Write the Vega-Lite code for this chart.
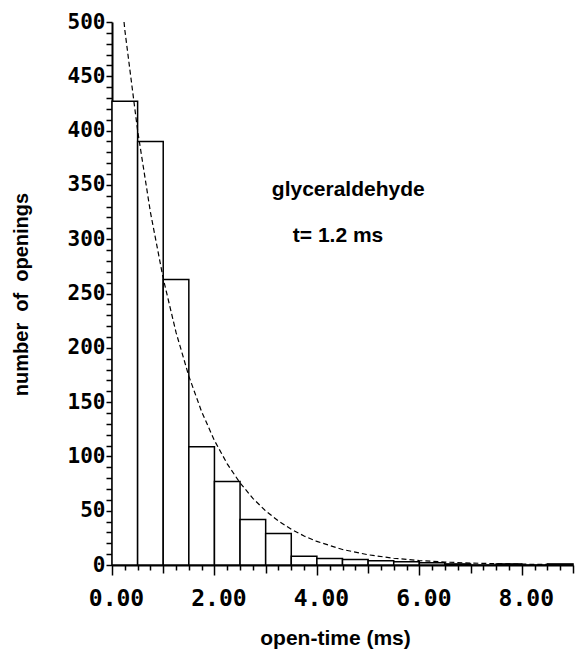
{
  "$schema": "https://vega.github.io/schema/vega-lite/v6.json",
  "width": 461,
  "height": 543,
  "autosize": "none",
  "padding": {"left": 112, "top": 22, "right": 6, "bottom": 84},
  "background": "white",
  "config": {
    "view": {"stroke": null},
    "axis": {"grid": false, "domainColor": "black", "tickColor": "black", "labelColor": "black", "titleColor": "black"}
  },
  "datasets": {
    "bins": [
      {"t": 0, "t2": 0.5, "n": 427},
      {"t": 0.5, "t2": 1, "n": 390},
      {"t": 1, "t2": 1.5, "n": 263},
      {"t": 1.5, "t2": 2, "n": 109},
      {"t": 2, "t2": 2.5, "n": 77},
      {"t": 2.5, "t2": 3, "n": 42},
      {"t": 3, "t2": 3.5, "n": 29},
      {"t": 3.5, "t2": 4, "n": 8},
      {"t": 4, "t2": 4.5, "n": 6},
      {"t": 4.5, "t2": 5, "n": 5},
      {"t": 5, "t2": 5.5, "n": 4},
      {"t": 5.5, "t2": 6, "n": 3},
      {"t": 6, "t2": 6.5, "n": 2},
      {"t": 6.5, "t2": 7, "n": 1},
      {"t": 7, "t2": 7.5, "n": 0},
      {"t": 7.5, "t2": 8, "n": 1},
      {"t": 8, "t2": 8.5, "n": 0},
      {"t": 8.5, "t2": 9, "n": 1}
    ],
    "curve": [
      {"t": 0.235, "n": 500},
      {"t": 0.25, "n": 492.8},
      {"t": 0.5, "n": 400.1},
      {"t": 0.75, "n": 324.9},
      {"t": 1.0, "n": 263.8},
      {"t": 1.25, "n": 214.2},
      {"t": 1.5, "n": 173.9},
      {"t": 1.75, "n": 141.2},
      {"t": 2.0, "n": 114.6},
      {"t": 2.25, "n": 93.1},
      {"t": 2.5, "n": 75.6},
      {"t": 2.75, "n": 61.4},
      {"t": 3.0, "n": 49.8},
      {"t": 3.25, "n": 40.5},
      {"t": 3.5, "n": 32.9},
      {"t": 3.75, "n": 26.7},
      {"t": 4.0, "n": 21.7},
      {"t": 4.5, "n": 14.3},
      {"t": 5.0, "n": 9.4},
      {"t": 5.5, "n": 6.2},
      {"t": 6.0, "n": 4.1},
      {"t": 6.5, "n": 2.7},
      {"t": 7.0, "n": 1.8},
      {"t": 7.5, "n": 1.2},
      {"t": 8.0, "n": 0.8},
      {"t": 8.5, "n": 0.5},
      {"t": 9.0, "n": 0.3}
    ],
    "notes": [
      {"t": 3.12, "n": 339.5, "label": "glyceraldehyde"},
      {"t": 3.53, "n": 297.5, "label": "t= 1.2 ms"}
    ]
  },
  "encoding": {
    "x": {
      "field": "t", "type": "quantitative",
      "scale": {"domain": [0, 9], "nice": false, "zero": false},
      "axis": {
        "values": [0,0.25,0.5,0.75,1,1.25,1.5,1.75,2,2.25,2.5,2.75,3,3.25,3.5,3.75,4,4.25,4.5,4.75,5,5.25,5.5,5.75,6,6.25,6.5,6.75,7,7.25,7.5,7.75,8,8.25,8.5,8.75,9],
        "labelExpr": "datum.value % 2 === 0 && datum.value < 9 ? format(datum.value, '.2f') : ''",
        "labelOverlap": false,
        "labelFlush": false,
        "labelFont": "DejaVu Sans Mono",
        "labelFontWeight": "bold",
        "labelFontSize": 23,
        "labelPadding": 12,
        "labelOffset": 4,
        "tickSize": {"condition": [{"test": "datum.value % 2 === 0", "value": 10}, {"test": "datum.value % 1 === 0", "value": 8}], "value": 5},
        "tickWidth": 1.5,
        "domainWidth": 2,
        "title": "open-time (ms)",
        "titleFont": "Liberation Sans",
        "titleFontWeight": "bold",
        "titleFontSize": 21,
        "titleX": 223,
        "titleY": 79,
        "titleBaseline": "alphabetic"
      }
    },
    "y": {
      "field": "n", "type": "quantitative",
      "scale": {"domain": [0, 500], "nice": false},
      "axis": {
        "values": [0,10,20,30,40,50,60,70,80,90,100,110,120,130,140,150,160,170,180,190,200,210,220,230,240,250,260,270,280,290,300,310,320,330,340,350,360,370,380,390,400,410,420,430,440,450,460,470,480,490,500],
        "labelExpr": "datum.value % 50 === 0 ? format(datum.value, 'd') : ''",
        "labelOverlap": false,
        "labelFlush": false,
        "labelFont": "DejaVu Sans Mono",
        "labelFontWeight": "bold",
        "labelFontSize": 21,
        "labelPadding": 1,
        "tickSize": 6,
        "tickWidth": 1.5,
        "domainWidth": 2,
        "title": "number\u00a0 of\u00a0 openings",
        "titleFont": "Liberation Sans",
        "titleFontWeight": "bold",
        "titleFontSize": 20,
        "titleX": -85,
        "titleY": 272,
        "titleBaseline": "alphabetic"
      }
    }
  },
  "layer": [
    {
      "data": {"name": "bins"},
      "mark": {"type": "rect", "fill": "white", "stroke": "black", "strokeWidth": 1.5},
      "encoding": {
        "x2": {"field": "t2"},
        "y2": {"datum": 0}
      }
    },
    {
      "data": {"name": "curve"},
      "mark": {"type": "line", "stroke": "black", "strokeWidth": 1.2, "strokeDash": [5, 3]},
      "encoding": {}
    },
    {
      "data": {"name": "notes"},
      "mark": {"type": "text", "font": "Liberation Sans", "fontWeight": "bold", "fontSize": 21, "align": "left", "baseline": "alphabetic", "color": "black"},
      "encoding": {
        "text": {"field": "label"}
      }
    }
  ]
}
